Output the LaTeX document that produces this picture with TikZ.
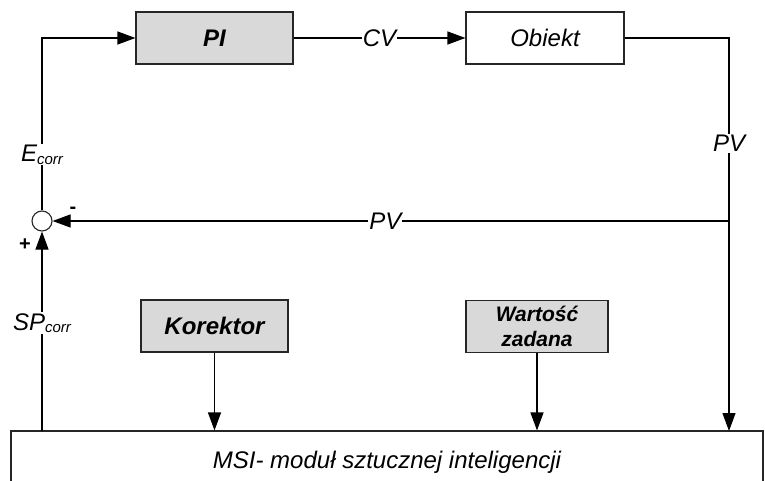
\documentclass[tikz,border=0pt]{standalone}
\usepackage{fontspec}
\setmainfont{Liberation Sans}
\usetikzlibrary{arrows.meta}
\tikzstyle{block} = [rectangle, draw=black!85, fill=white, minimum height=52pt, inner sep=0pt]
\tikzstyle{shaded} = [block, fill=black!15]
\tikzstyle{sig} = [fill=white, inner sep=1pt]
\newcommand{\lowtext}[1]{{\fontsize{15}{15}\selectfont\raisebox{-0.35ex}{#1}}}

\begin{document}
\begin{tikzpicture}[->,>={Triangle[length=18pt,width=13pt]},x=1pt,y=-1pt,line width=1.1pt,
  font=\itshape\fontsize{24}{28}\selectfont]
  \clip (0,0) rectangle (765,481);
  \node[shaded, minimum width=157pt] (pi) at (214.5,38) {\bfseries PI};
  \node[block, minimum width=158pt] (obiekt) [right of=pi, node distance=330.5pt] {Obiekt};
  \node[shaded, minimum width=147pt] (korektor) [below of=pi, node distance=288pt] {\bfseries Korektor};
  \node[shaded, minimum width=142pt, align=center, font=\itshape\bfseries\fontsize{21}{25}\selectfont] (wartosc) at (537,326.5) {Warto\'s\'c\\zadana};
  \node[block, minimum width=752pt, minimum height=62pt] (msi) at (387,462) {MSI- modu\l{} sztucznej inteligencji};
  \node[circle, draw=black!85, fill=white, minimum size=20pt, inner sep=0pt] (sum) at (42,221) {};
  \node[font=\bfseries\fontsize{20}{20}\selectfont] (minus) at (73,210) {-};
  \node[font=\bfseries\fontsize{20}{20}\selectfont] (plus) at (25,245) {+};
  \coordinate (pvin) at (729,431);
  \coordinate (pvtap) at (729,221);
  \coordinate (spout) at (42,431);

  \draw (sum) |- node[sig, pos=0.162] {E\lowtext{corr}} (pi);
  \draw (pi) -- node[sig] {CV} (obiekt);
  \draw (obiekt) -| node[sig, pos=0.634] {PV} (pvin);
  \draw (pvtap) -- node[sig, pos=0.508] {PV} (sum);
  \draw (spout) -- node[sig, pos=0.54] {SP\lowtext{corr}} (sum);
  \draw (korektor) -- (korektor |- msi.north);
  \draw (wartosc) -- (wartosc |- msi.north);
\end{tikzpicture}
\end{document}
